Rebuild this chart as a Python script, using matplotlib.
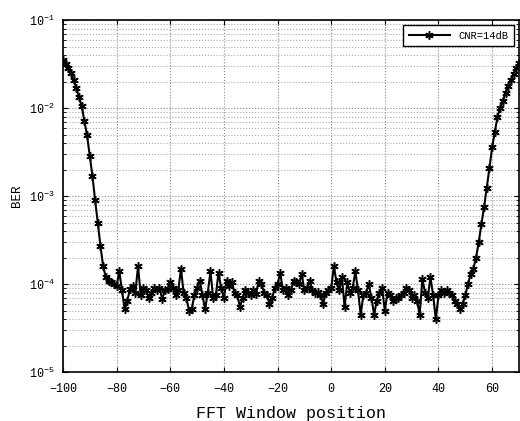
import numpy as np
import matplotlib.pyplot as plt
from matplotlib.ticker import LogLocator, LogFormatterMathtext, MultipleLocator, NullFormatter

plt.rcParams['font.family'] = ['Liberation Mono', 'DejaVu Sans Mono']
plt.rcParams['mathtext.fontset'] = 'custom'
plt.rcParams['mathtext.rm'] = 'Liberation Mono'
plt.rcParams['mathtext.it'] = 'Liberation Mono'

# FFT window offset (samples) and measured BER at CNR = 14 dB
window_pos = list(range(-100, 71))
ber = [
    3.5e-2, 3.2e-2, 2.85e-2, 2.5e-2, 2.1e-2, 1.7e-2, 1.35e-2, 1.05e-2, 7.2e-3, 4.9e-3,   # -100..-91
    2.9e-3, 1.7e-3, 9.0e-4, 5.0e-4, 2.7e-4, 1.6e-4, 1.2e-4, 1.1e-4, 1.05e-4, 1.0e-4,    # -90..-81
    9.5e-5, 1.4e-4, 8.5e-5, 5.2e-5, 6.5e-5, 8.8e-5, 9.5e-5, 8.0e-5, 1.6e-4, 7.5e-5,     # -80..-71
    9.0e-5, 8.5e-5, 7.0e-5, 8.0e-5, 9.0e-5, 8.5e-5, 9.0e-5, 6.8e-5, 8.5e-5, 8.8e-5,     # -70..-61
    1.05e-4, 9.0e-5, 7.5e-5, 8.5e-5, 1.5e-4, 8.0e-5, 7.0e-5, 5.0e-5, 5.2e-5, 7.5e-5,    # -60..-51
    9.0e-5, 1.1e-4, 7.5e-5, 5.2e-5, 8.0e-5, 1.4e-4, 7.0e-5, 7.5e-5, 1.35e-4, 9.0e-5,    # -50..-41
    7.0e-5, 1.1e-4, 9.5e-5, 1.05e-4, 8.0e-5, 7.5e-5, 5.5e-5, 7.0e-5, 8.5e-5, 8.0e-5,    # -40..-31
    7.5e-5, 8.5e-5, 7.8e-5, 1.1e-4, 1.0e-4, 8.0e-5, 7.5e-5, 6.0e-5, 7.0e-5, 9.0e-5,     # -30..-21
    1.0e-4, 1.35e-4, 8.5e-5, 9.0e-5, 7.5e-5, 8.5e-5, 1.1e-4, 1.05e-4, 1.0e-4, 1.3e-4,   # -20..-11
    8.5e-5, 9.0e-5, 1.1e-4, 8.5e-5, 8.0e-5, 8.2e-5, 7.5e-5, 6.0e-5, 8.0e-5, 8.5e-5,     # -10..-1
    9.0e-5, 1.6e-4, 1.05e-4, 8.5e-5, 1.2e-4, 5.5e-5, 1.05e-4, 8.0e-5, 9.0e-5, 1.4e-4,   # 0..9
    8.5e-5, 4.5e-5, 7.5e-5, 8.0e-5, 1.0e-4, 7.0e-5, 4.5e-5, 6.5e-5, 8.0e-5, 9.0e-5,     # 10..19
    5.0e-5, 8.0e-5, 7.5e-5, 6.5e-5, 7.0e-5, 7.0e-5, 7.5e-5, 8.0e-5, 9.0e-5, 8.5e-5,     # 20..29
    7.0e-5, 7.5e-5, 6.5e-5, 4.5e-5, 1.15e-4, 8.0e-5, 7.0e-5, 1.2e-4, 7.5e-5, 4.0e-5,    # 30..39
    7.5e-5, 8.5e-5, 8.0e-5, 8.5e-5, 8.0e-5, 7.5e-5, 6.5e-5, 6.0e-5, 5.2e-5, 6.0e-5,     # 40..49
    7.5e-5, 1.0e-4, 1.3e-4, 1.5e-4, 2.0e-4, 3.0e-4, 4.8e-4, 7.5e-4, 1.25e-3, 2.1e-3,    # 50..59
    3.6e-3, 5.4e-3, 8.0e-3, 1.0e-2, 1.2e-2, 1.5e-2, 1.8e-2, 2.1e-2, 2.45e-2, 2.85e-2,   # 60..69
    3.3e-2,                                                                               # 70
]

fig = plt.figure(figsize=(5.2, 4.21), dpi=100)
ax = fig.add_axes([0.121, 0.116, 0.877, 0.836])

ax.semilogy(window_pos, ber, color='black', linewidth=1.5,
            marker=(6, 2, 0), markersize=6, markeredgewidth=1.1,
            label='CNR=14dB')

ax.set_xlim(-100, 70)
ax.set_ylim(1e-5, 1e-1)
ax.xaxis.set_major_locator(MultipleLocator(20))
ax.yaxis.set_major_locator(LogLocator(base=10))
ax.yaxis.set_major_formatter(LogFormatterMathtext())
ax.yaxis.set_minor_locator(LogLocator(base=10, subs=np.arange(2, 10)))
ax.yaxis.set_minor_formatter(NullFormatter())

ax.grid(True, which='major', linestyle=':', color='#888888', linewidth=0.8)
ax.grid(True, which='minor', axis='y', linestyle=':', color='#aaaaaa', linewidth=0.8)

ax.tick_params(which='both', direction='in', top=True, right=True, labelsize=8.5)
ax.tick_params(axis='x', pad=8)
ax.tick_params(axis='y', pad=6)
ax.tick_params(which='minor', length=2)
for side in ax.spines.values():
    side.set_linewidth(1.2)

ax.set_xlabel('FFT Window position', fontsize=12, labelpad=8)
ax.set_ylabel('BER', fontsize=9)

leg = ax.legend(loc='upper right', fontsize=7.5, fancybox=False, framealpha=1,
                edgecolor='black', handlelength=4, borderpad=0.5)
leg.get_frame().set_linewidth(1.0)

fig.savefig('out.png', dpi=100)
